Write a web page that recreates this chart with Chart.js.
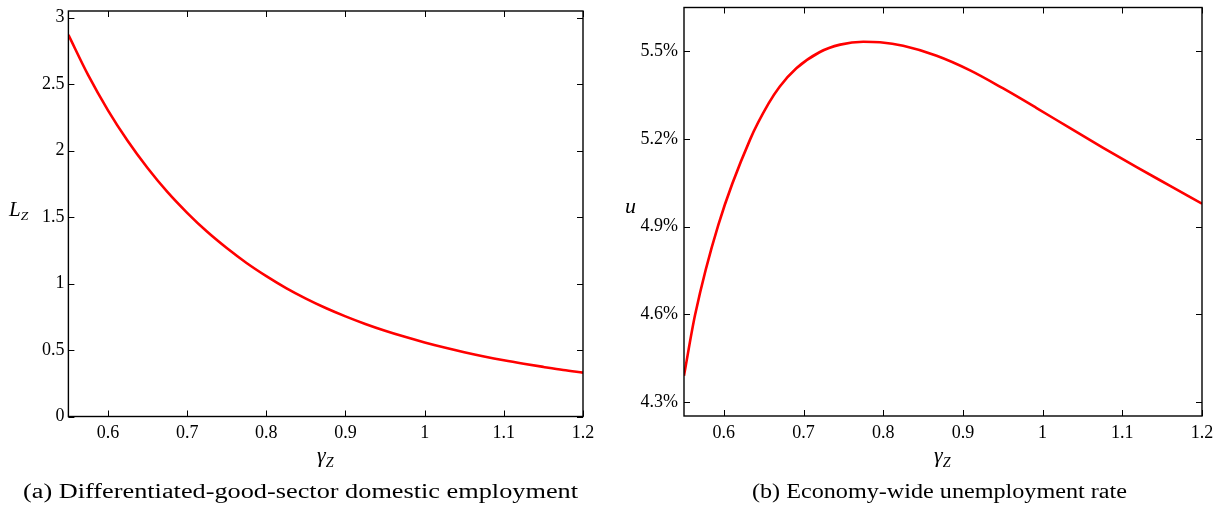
<!DOCTYPE html>
<html><head><meta charset="utf-8">
<script src="https://cdn.jsdelivr.net/npm/chart.js@4.4.0/dist/chart.umd.min.js"></script>
<style>
body{margin:0;background:#fff;width:1218px;height:508px;position:relative;overflow:hidden;font-family:"Liberation Serif",serif;}
canvas{position:absolute;top:0;}
.t{position:absolute;white-space:nowrap;line-height:1;color:#000;}
.it{font-style:italic;}
.sub{font-size:0.64em;position:relative;top:0.32em;font-style:italic;}
.cap{position:absolute;white-space:nowrap;line-height:1;font-size:20.5px;transform-origin:0 0;}
</style></head><body>
<canvas id="cL" width="609" height="508" style="left:0"></canvas>
<canvas id="cR" width="609" height="508" style="left:609px"></canvas>
<div class="t it" style="left:9px;top:199px;font-size:21px">L<span class="sub">Z</span></div>
<div class="t it" style="left:625px;top:195px;font-size:22px">u</div>
<div class="t it" style="left:317px;top:444px;font-size:22px">γ<span class="sub">Z</span></div>
<div class="t it" style="left:934px;top:444px;font-size:22px">γ<span class="sub">Z</span></div>
<div class="cap" id="capL" data-x="23" data-w="555" style="top:481px">(a) Differentiated-good-sector domestic employment</div>
<div class="cap" id="capR" data-x="752" data-w="375" style="top:481px">(b) Economy-wide unemployment rate</div>
<script>
// ---- data ----
const gammaLeft = [0.55,0.575,0.6,0.625,0.65,0.675,0.7,0.725,0.75,0.775,0.8,0.825,0.85,0.875,0.9,0.925,0.95,0.975,1.0,1.025,1.05,1.075,1.1,1.125,1.15,1.175,1.2];
const laborZ = [2.870,2.567,2.303,2.072,1.869,1.689,1.532,1.391,1.267,1.155,1.056,0.966,0.887,0.816,0.753,0.696,0.645,0.599,0.557,0.519,0.484,0.452,0.423,0.397,0.373,0.350,0.330];
const gammaRight = [0.55,0.564,0.593,0.633,0.656,0.67,0.691,0.72,0.746,0.775,0.796,0.825,0.867,0.909,0.95,0.992,1.034,1.076,1.118,1.16,1.2];
const unempRate = [4.39,4.599,4.905,5.198,5.320,5.378,5.441,5.496,5.522,5.532,5.530,5.518,5.484,5.434,5.373,5.306,5.237,5.169,5.103,5.039,4.978];
const xTickVals = [0.6,0.7,0.8,0.9,1,1.1,1.2];
const yTicksLeft = [0,0.5,1,1.5,2,2.5,3];
const yTicksRight = [4.3,4.6,4.9,5.2,5.5];

const boxTicks = {
  id:'boxTicks',
  afterDraw(chart){
    const {ctx, chartArea:{left,right,top,bottom}, scales:{x,y}} = chart;
    const L = 6;
    ctx.save();
    ctx.strokeStyle = '#000';
    ctx.lineWidth = 1;
    ctx.beginPath();
    x.ticks.forEach(t=>{
      const px = Math.round(x.getPixelForValue(t.value))+0.5;
      ctx.moveTo(px,bottom); ctx.lineTo(px,bottom-L);
      ctx.moveTo(px,top); ctx.lineTo(px,top+L);
    });
    y.ticks.forEach(t=>{
      const py = Math.round(y.getPixelForValue(t.value))+0.5;
      ctx.moveTo(left,py); ctx.lineTo(left+L,py);
      ctx.moveTo(right,py); ctx.lineTo(right-L,py);
    });
    ctx.stroke();
    ctx.lineWidth = 1.4;
    ctx.strokeRect(left,top,right-left,bottom-top);
    ctx.restore();
  }
};

function makeChart(id, xs, values, yMin, yMax, yTicks, yFmt, pad, yW, xH, yPad){
  return new Chart(document.getElementById(id), {
    type:'line',
    data:{datasets:[{
      data: xs.map((g,i)=>({x:g,y:values[i]})),
      borderColor:'#ff0000', borderWidth:2.6, pointRadius:0,
      cubicInterpolationMode:'monotone', fill:false
    }]},
    options:{
      responsive:false, maintainAspectRatio:false, animation:false,
      layout:{padding:pad},
      plugins:{legend:{display:false}, tooltip:{enabled:false}},
      scales:{
        x:{type:'linear', min:0.55, max:1.2,
          grid:{display:false, drawTicks:false}, border:{display:false},
          afterBuildTicks:s=>{s.ticks = xTickVals.map(v=>({value:v}));},
          afterFit:s=>{s.height = xH; s.paddingLeft = 0; s.paddingRight = 0;},
          ticks:{autoSkip:false, maxRotation:0, padding:6, color:'#000',
            font:{family:'Liberation Serif', size:18},
            callback:v=>String(v)}
        },
        y:{type:'linear', min:yMin, max:yMax,
          grid:{display:false, drawTicks:false}, border:{display:false},
          afterBuildTicks:s=>{s.ticks = yTicks.map(v=>({value:v}));},
          afterFit:s=>{s.width = yW; s.paddingTop = 0; s.paddingBottom = 0;},
          ticks:{autoSkip:false, padding:yPad, color:'#000',
            font:{family:'Liberation Serif', size:18},
            callback:yFmt}
        }
      }
    },
    plugins:[boxTicks]
  });
}

makeChart('cL', gammaLeft, laborZ, 0, 3.05, yTicksLeft, v=>String(v), {left:0,right:26,top:11,bottom:0}, 68.4, 91.5, 4);
makeChart('cR', gammaRight, unempRate, 4.252, 5.649, yTicksRight, v=>v.toFixed(1)+'%', {left:0,right:16,top:7.5,bottom:0}, 75, 92, 6);

document.querySelectorAll('.cap').forEach(el=>{
  const w = el.getBoundingClientRect().width;
  const tw = +el.dataset.w;
  el.style.left = el.dataset.x+'px';
  el.style.transform = 'scaleX('+(tw/w)+')';
});
</script>
</body></html>
